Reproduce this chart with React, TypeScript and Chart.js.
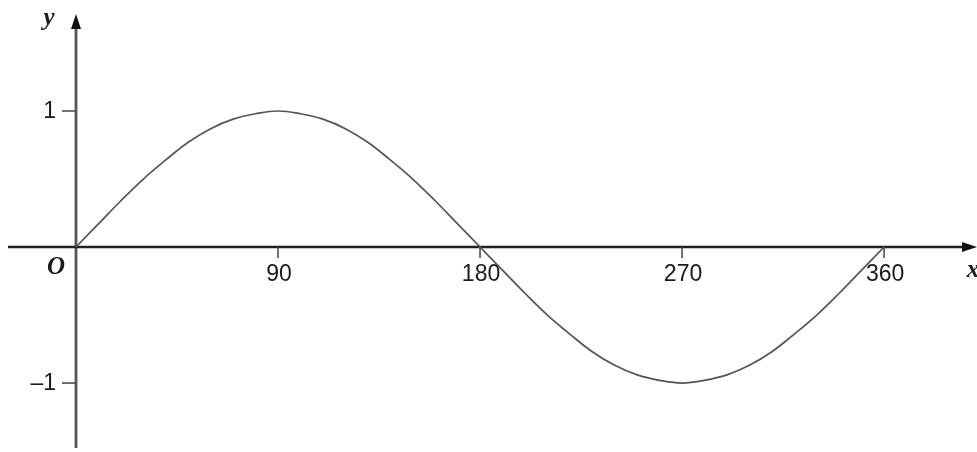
import React, { useEffect, useRef } from "react";
import { Chart, registerables } from "chart.js";

Chart.register(...registerables);

// Angle (degrees) and value
const angles = [0, 10, 20, 30, 40, 50, 60, 70, 80, 90, 100, 110, 120, 130, 140, 150, 160, 170, 180,
  190, 200, 210, 220, 230, 240, 250, 260, 270, 280, 290, 300, 310, 320, 330, 340, 350, 360];
const values = [0, 0.17, 0.34, 0.5, 0.64, 0.77, 0.87, 0.94, 0.98, 1, 0.98, 0.94, 0.87, 0.77, 0.64, 0.5, 0.34, 0.17, 0,
  -0.17, -0.34, -0.5, -0.64, -0.77, -0.87, -0.94, -0.98, -1, -0.98, -0.94, -0.87, -0.77, -0.64, -0.5, -0.34, -0.17, 0];

const xTicks = [90, 180, 270, 360];
const xTickLabels = ["90", "180", "270", "360"];
const yTicks = [1, -1];
const yTickLabels = ["1", "\u20131"];

const X_MIN = -33.86;
const X_MAX = 401.4;
const Y_MIN = -1.507;
const Y_MAX = 1.816;

const axesPlugin = {
  id: "mathAxes",
  beforeDatasetsDraw(chart: any) {
    const ctx = chart.ctx;
    const xs = chart.scales.x;
    const ys = chart.scales.y;
    const x0 = xs.getPixelForValue(0);
    const y0 = ys.getPixelForValue(0);
    ctx.save();
    // y axis
    ctx.strokeStyle = "#555";
    ctx.lineWidth = 2.8;
    ctx.beginPath();
    ctx.moveTo(x0, 448);
    ctx.lineTo(x0, 24);
    ctx.stroke();
    ctx.fillStyle = "#111";
    ctx.beginPath();
    ctx.moveTo(x0, 14);
    ctx.lineTo(x0 - 5, 29);
    ctx.lineTo(x0 + 5, 29);
    ctx.closePath();
    ctx.fill();
    // x axis
    ctx.strokeStyle = "#222";
    ctx.lineWidth = 2.6;
    ctx.beginPath();
    ctx.moveTo(8, y0);
    ctx.lineTo(966, y0);
    ctx.stroke();
    ctx.fillStyle = "#111";
    ctx.beginPath();
    ctx.moveTo(977, y0);
    ctx.lineTo(962, y0 - 5);
    ctx.lineTo(962, y0 + 5);
    ctx.closePath();
    ctx.fill();
    // x ticks
    ctx.strokeStyle = "#444";
    ctx.lineWidth = 1.5;
    ctx.font = "23px 'Liberation Sans', Arial, sans-serif";
    ctx.fillStyle = "#1a1a1a";
    ctx.textAlign = "center";
    ctx.textBaseline = "middle";
    xTicks.forEach((t, i) => {
      const px = xs.getPixelForValue(t);
      ctx.beginPath();
      ctx.moveTo(px, y0);
      ctx.lineTo(px, y0 + 11);
      ctx.stroke();
      ctx.fillText(xTickLabels[i], px + 1, y0 + 28);
    });
    // y ticks
    ctx.textAlign = "right";
    ctx.textBaseline = "middle";
    yTicks.forEach((t, i) => {
      const py = ys.getPixelForValue(t);
      ctx.beginPath();
      ctx.moveTo(x0 - 14, py);
      ctx.lineTo(x0, py);
      ctx.stroke();
      ctx.fillText(yTickLabels[i], x0 - 20, py + 1);
    });
    // italic letters
    ctx.font = "italic bold 25px 'Liberation Serif', 'Times New Roman', serif";
    ctx.textAlign = "center";
    ctx.fillText("y", x0 - 27, 19);
    ctx.fillText("O", x0 - 20, y0 + 21);
    ctx.fillText("x", 973, y0 + 24);
    ctx.restore();
  },
};

export default function App() {
  const ref = useRef<HTMLCanvasElement>(null);
  useEffect(() => {
    if (!ref.current) return;
    const chart = new Chart(ref.current, {
      type: "line",
      data: {
        datasets: [
          {
            data: angles.map((a, i) => ({ x: a, y: values[i] })),
            borderColor: "#555",
            borderWidth: 1.7,
            pointRadius: 0,
            tension: 0.4,
            fill: false,
          },
        ],
      },
      options: {
        responsive: false,
        animation: false,
        layout: { padding: 0 },
        plugins: { legend: { display: false }, tooltip: { enabled: false } },
        scales: {
          x: { type: "linear", min: X_MIN, max: X_MAX, display: false },
          y: { type: "linear", min: Y_MIN, max: Y_MAX, display: false },
        },
      },
      plugins: [axesPlugin],
    });
    return () => chart.destroy();
  }, []);
  return (
    <div style={{ position: "absolute", left: 0, top: 0, width: 977, height: 452, background: "#fff" }}>
      <canvas ref={ref} width={977} height={452} />
    </div>
  );
}
